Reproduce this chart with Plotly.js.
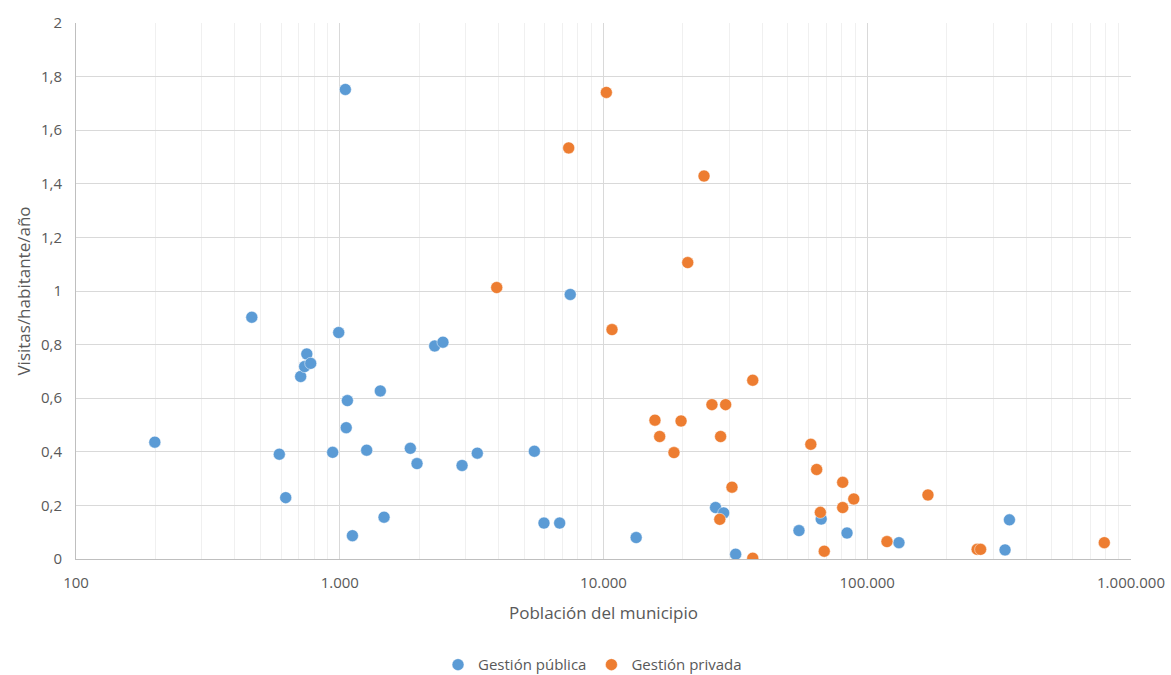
<!DOCTYPE html>
<html>
<head>
<meta charset="utf-8">
<script src="https://cdn.plot.ly/plotly-3.0.1.min.js"></script>
<style>html,body{margin:0;padding:0;background:#fff;}#chart{width:1171px;height:675px;}</style>
</head>
<body>
<div id="chart"></div>
<script>
// Gestión pública
var publicaPoblacion = [199, 464, 590, 624, 711, 736, 750, 776, 940, 991, 1050, 1069, 1058, 1117, 1265, 1425, 1472, 1852, 1963, 2291, 2462, 2909, 3323, 5469, 5947, 6820, 7480, 13300, 26600, 28560, 31700, 55100, 66900, 83800, 131900, 333000, 346000];
var publicaVisitas = [0.436, 0.902, 0.391, 0.229, 0.681, 0.718, 0.765, 0.730, 0.398, 0.845, 1.752, 0.591, 0.490, 0.087, 0.406, 0.627, 0.156, 0.413, 0.356, 0.795, 0.809, 0.349, 0.395, 0.402, 0.134, 0.134, 0.987, 0.080, 0.192, 0.172, 0.018, 0.106, 0.149, 0.097, 0.061, 0.034, 0.146];
// Gestión privada
var privadaPoblacion = [3937, 7380, 10250, 10770, 15670, 16330, 18500, 19680, 20860, 24050, 25770, 27800, 27600, 29050, 30700, 36800, 36800, 61100, 64300, 66400, 68700, 80700, 80700, 88900, 118800, 169900, 261000, 269000, 792000];
var privadaVisitas = [1.013, 1.534, 1.741, 0.856, 0.518, 0.457, 0.397, 0.515, 1.106, 1.429, 0.576, 0.457, 0.148, 0.576, 0.268, 0.667, 0.003, 0.428, 0.334, 0.174, 0.029, 0.286, 0.192, 0.224, 0.065, 0.239, 0.036, 0.036, 0.061];

var seriesNames = ["Gestión pública", "Gestión privada"];
var xTickVals = [100, 1000, 10000, 100000, 1000000];
var xTickText = ["100", "1.000", "10.000", "100.000", "1.000.000"];
var yTickVals = [0, 0.2, 0.4, 0.6, 0.8, 1, 1.2, 1.4, 1.6, 1.8, 2];
var yTickText = ["0", "0,2", "0,4", "0,6", "0,8", "1", "1,2", "1,4", "1,6", "1,8", "2"];

// minor log gridlines (2..9 within each decade)
var xMinorVals = [];
for (var d = 100; d < 1000000; d *= 10) {
  for (var m = 2; m <= 9; m++) xMinorVals.push(m * d);
}

var FONT = "'Open Sans', sans-serif";
var TXT = "#595959";

var traces = [
  {x: publicaPoblacion, y: publicaVisitas, name: seriesNames[0], type: "scatter", mode: "markers",
   marker: {color: "#5B9BD5", size: 12, line: {color: "rgba(255,255,255,0.6)", width: 0.8}}},
  {x: privadaPoblacion, y: privadaVisitas, name: seriesNames[1], type: "scatter", mode: "markers",
   marker: {color: "#ED7D31", size: 12, line: {color: "rgba(255,255,255,0.6)", width: 0.8}}}
];

var layout = {
  width: 1171, height: 675,
  margin: {l: 76, r: 40, t: 23, b: 116},
  paper_bgcolor: "#fff", plot_bgcolor: "#fff",
  font: {family: FONT, size: 15, color: TXT},
  showlegend: true,
  legend: {orientation: "h", xref: "container", yref: "container",
           x: 0.506, xanchor: "center", y: 0.015, yanchor: "middle",
           itemwidth: 30, tracegroupgap: 0,
           font: {family: FONT, size: 15, color: TXT}},
  xaxis: {
    type: "log", range: [2, 6], automargin: false,
    tickvals: xTickVals, ticktext: xTickText,
    showgrid: true, gridcolor: "#D9D9D9", gridwidth: 1,
    minor: {tickvals: xMinorVals, showgrid: true, gridcolor: "#F0F0F0", gridwidth: 1, ticks: ""},
    showline: true, linecolor: "#BFBFBF", linewidth: 1,
    zeroline: false, ticks: "", ticklabelstandoff: 10,
    tickfont: {family: FONT, size: 15, color: TXT},
    title: {text: "Población del municipio", font: {family: FONT, size: 17, color: TXT}, standoff: 16}
  },
  yaxis: {
    range: [0, 2], automargin: false,
    tickvals: yTickVals, ticktext: yTickText,
    showgrid: true, gridcolor: "#D9D9D9", gridwidth: 1,
    showline: true, linecolor: "#BFBFBF", linewidth: 1,
    zeroline: false, ticks: "", ticklabelstandoff: 10,
    tickfont: {family: FONT, size: 15, color: TXT},
    title: {text: "Visitas/habitante/año", font: {family: FONT, size: 17, color: TXT}, standoff: 6}
  }
};

Plotly.newPlot("chart", traces, layout, {displayModeBar: false, staticPlot: true});
</script>
</body>
</html>
